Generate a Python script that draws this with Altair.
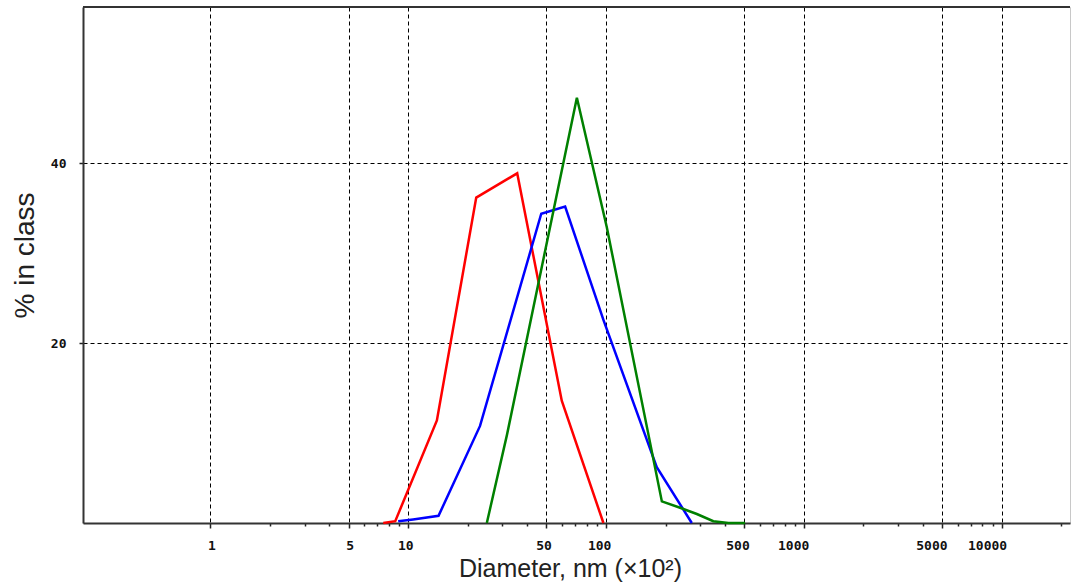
import altair as alt
import pandas as pd

# Particle size distributions (% in class vs diameter, nm x10^2)
red_x = [7.49, 8.61, 13.98, 22.1, 35.6, 59.8, 97.1]
red_y = [0.0, 0.2, 11.4, 36.2, 38.9, 13.6, 0.0]

blue_x = [8.91, 10.6, 14.25, 23.1, 47.1, 62.2, 97.1, 180.7, 271.6]
blue_y = [0.2, 0.4, 0.8, 10.8, 34.4, 35.2, 22.6, 6.2, 0.0]

green_x = [25.0, 31.6, 71.3, 101.0, 191.7, 237.0, 288.0, 349.0, 416.0, 505.0]
green_y = [0.0, 9.8, 47.3, 32.9, 2.4, 1.7, 1.0, 0.2, 0.0, 0.0]

series_names = ["red", "blue", "green"]
series_colors = ["#ff0000", "#0000ff", "#008000"]

major_ticks = [1, 5, 10, 50, 100, 500, 1000, 5000, 10000]
all_ticks = [m * 10 ** k for k in range(0, 4) for m in range(1, 10)] + [10000, 20000]
y_ticks = [20, 40]

rows = []
for name, xs, ys in zip(series_names, [red_x, blue_x, green_x], [red_y, blue_y, green_y]):
    for i, (a, b) in enumerate(zip(xs, ys)):
        rows.append({"series": name, "d": a, "p": b, "i": i})
df = pd.DataFrame(rows)

major_js = "[" + ",".join(str(v) for v in major_ticks) + "]"
is_major = f"indexof({major_js}, datum.value) >= 0"

x_axis = alt.Axis(
    values=all_ticks,
    grid=True,
    gridColor="#000000",
    gridDash=[4, 3],
    gridWidth=1,
    gridOpacity={"condition": {"test": is_major, "value": 1}, "value": 0},
    ticks=True,
    tickColor="#222222",
    tickWidth=1.5,
    tickSize={"condition": {"test": is_major, "value": 5}, "value": 3},
    labelExpr=f"{is_major} ? '' + datum.value : ''",
    labelFont="DejaVu Sans Mono",
    labelFontWeight="bold",
    labelFontSize=13,
    labelColor="#111111",
    labelPadding=11,
    labelAlign="right",
    labelOffset=5,
    labelOverlap=False,
    labelFlush=False,
    domain=True,
    domainColor="#333333",
    domainWidth=2,
    title="Diameter, nm (×10²)",
    titleFont="Liberation Sans",
    titleFontWeight="normal",
    titleFontSize=25,
    titleColor="#222222",
    titleAlign="center",
    titleBaseline="alphabetic",
    titleX=487,
    titleY=53,
)

y_axis = alt.Axis(
    values=y_ticks,
    grid=True,
    gridColor="#000000",
    gridDash=[4, 3],
    gridWidth=1,
    ticks=True,
    tickColor="#222222",
    tickWidth=1.5,
    tickSize=4,
    labelFont="DejaVu Sans Mono",
    labelFontWeight="bold",
    labelFontSize=13,
    labelColor="#111111",
    labelPadding=13,
    domain=True,
    domainColor="#333333",
    domainWidth=2,
    title="% in class",
    titleFont="Liberation Sans",
    titleFontWeight="normal",
    titleFontSize=28,
    titleColor="#222222",
    titleAngle=270,
    titleAlign="center",
    titleBaseline="middle",
    titleX=-58,
    titleY=248,
)

lines = alt.Chart(df).mark_line(strokeWidth=2.5, interpolate="linear").encode(
    x=alt.X("d:Q", scale=alt.Scale(type="log", domain=[0.2274, 22160], nice=False), axis=x_axis),
    y=alt.Y("p:Q", scale=alt.Scale(domain=[0, 57.4], nice=False, zero=True), axis=y_axis),
    color=alt.Color("series:N", scale=alt.Scale(domain=series_names, range=series_colors), legend=None),
    order=alt.Order("i:Q"),
)

top_border = alt.Chart(df).mark_rule(color="#333333", strokeWidth=2).encode(
    x=alt.value(0), x2=alt.value(987), y=alt.value(0)
)

chart = (
    alt.layer(lines, top_border)
    .properties(
        width=987,
        height=516,
        autosize=alt.AutoSizeParams(type="none"),
        padding={"left": 83, "top": 7, "right": 1, "bottom": 64},
        background="#ffffff",
    )
    .configure_view(stroke="#c8c8c8", strokeWidth=1)
)

chart.save("out.html", embed_options={"renderer": "svg", "actions": False})
